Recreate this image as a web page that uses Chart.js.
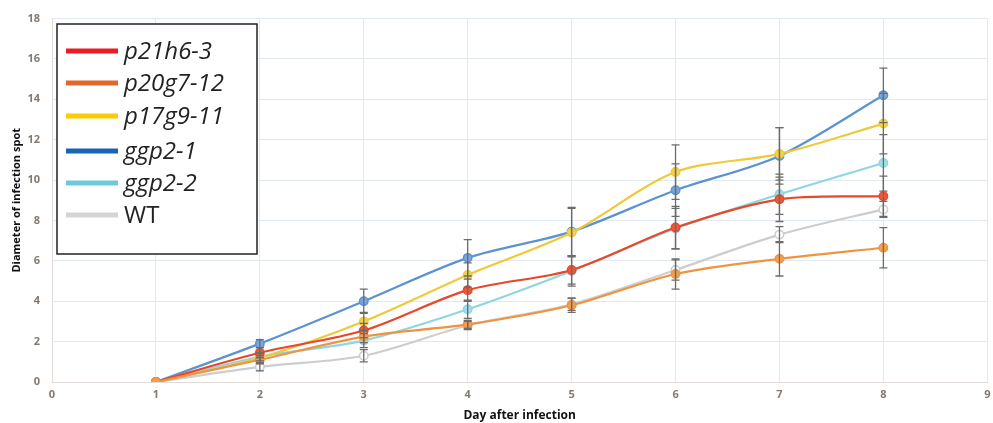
<!DOCTYPE html>
<html>
<head>
<meta charset="utf-8">
<script src="https://cdn.jsdelivr.net/npm/chart.js@4/dist/chart.umd.min.js"></script>
<style>
  html, body { margin: 0; padding: 0; background: #fff; }
  #wrap { width: 993px; height: 423px; }
</style>
</head>
<body>
<div id="wrap"><canvas id="chart" width="993" height="423"></canvas></div>
<script>
// data
const days = [1, 2, 3, 4, 5, 6, 7, 8];
const labels = ['p21h6-3', 'p20g7-12', 'p17g9-11', 'ggp2-1', 'ggp2-2', 'WT'];

const p21h6_3 = [0, 1.45, 2.55, 4.55, 5.55, 7.65, 9.05, 9.2];
const p20g7_12 = [0, 1.1, 2.25, 2.85, 3.8, 5.35, 6.1, 6.65];
const p17g9_11 = [0, 1.2, 3.0, 5.3, 7.4, 10.4, 11.3, 12.8];
const ggp2_1 = [0, 1.9, 4.0, 6.15, 7.45, 9.5, 11.2, 14.2];
const ggp2_2 = [0, 1.25, 2.05, 3.6, 5.5, 7.6, 9.3, 10.85];
const wt = [0, 0.75, 1.3, 2.8, 3.85, 5.55, 7.3, 8.55];

// standard error bars
const err_p21h6_3 = [0, 0.25, 0.35, 0.55, 0.7, 1.05, 1.1, 1.0];
const err_p20g7_12 = [0, 0.2, 0.3, 0.2, 0.35, 0.75, 0.85, 1.0];
const err_p17g9_11 = [0, 0.25, 0.45, 0.6, 1.2, 1.35, 1.3, 1.5];
const err_ggp2_1 = [0, 0.2, 0.6, 0.9, 1.2, 1.3, 1.4, 1.35];
const err_ggp2_2 = [0, 0.2, 0.35, 0.45, 0.75, 1.0, 1.0, 1.4];
const err_wt = [0, 0.2, 0.3, 0.2, 0.3, 0.5, 0.4, 0.4];

const series = [p21h6_3, p20g7_12, p17g9_11, ggp2_1, ggp2_2, wt];
const errors = [err_p21h6_3, err_p20g7_12, err_p17g9_11, err_ggp2_1, err_ggp2_2, err_wt];
const lineColors = ['#e8472a', '#ee9440', '#f0c93a', '#5b93d2', '#8fd6e3', '#cdcdcd'];
const fillColors = ['#ec5a3a', '#f2a050', '#f5d44a', '#7aa8dc', '#a2dde8', '#ffffff'];
const legendColors = ['#ec1c24', '#e2682a', '#ffcb05', '#1565b4', '#6ccadb', '#d5d5d8'];
const drawOrder = [2, 1, 3, 4, 5, 6];

// error bars drawn with the chart's scales
const errorBars = {
  id: 'errorBars',
  afterDatasetsDraw(chart) {
    const ctx = chart.ctx;
    const x = chart.scales.x, y = chart.scales.y;
    ctx.save();
    ctx.strokeStyle = '#6b6b6b';
    ctx.lineWidth = 1.3;
    series.forEach((s, i) => {
      s.forEach((v, j) => {
        const e = errors[i][j];
        if (!e) return;
        const px = x.getPixelForValue(days[j]);
        const top = y.getPixelForValue(v + e);
        const bot = y.getPixelForValue(v - e);
        ctx.beginPath();
        ctx.moveTo(px, top); ctx.lineTo(px, bot);
        ctx.moveTo(px - 4, top); ctx.lineTo(px + 4, top);
        ctx.moveTo(px - 4, bot); ctx.lineTo(px + 4, bot);
        ctx.stroke();
      });
    });
    ctx.restore();
  }
};

// boxed legend inside the plot
const boxLegend = {
  id: 'boxLegend',
  afterDraw(chart) {
    const ctx = chart.ctx;
    ctx.save();
    ctx.fillStyle = '#ffffff';
    ctx.fillRect(57, 24, 200, 230);
    ctx.strokeStyle = '#222';
    ctx.lineWidth = 1.5;
    ctx.strokeRect(57, 24, 200, 230);
    const rows = [51, 83, 116, 151, 183, 215];
    labels.forEach((lab, i) => {
      ctx.strokeStyle = legendColors[i];
      ctx.lineWidth = 5;
      ctx.beginPath();
      ctx.moveTo(66, rows[i]);
      ctx.lineTo(118, rows[i]);
      ctx.stroke();
      ctx.fillStyle = '#222';
      ctx.font = (lab === 'WT' ? '' : 'italic ') + '24px "Open Sans", sans-serif';
      ctx.textBaseline = 'middle';
      ctx.fillText(lab, 124, rows[i] + 1);
    });
    ctx.restore();
  }
};

const ctx = document.getElementById('chart').getContext('2d');
new Chart(ctx, {
  type: 'line',
  data: {
    datasets: series.map((s, i) => ({
      label: labels[i],
      data: s.map((v, j) => ({ x: days[j], y: v })),
      borderColor: lineColors[i],
      backgroundColor: fillColors[i],
      pointBackgroundColor: fillColors[i],
      pointBorderColor: lineColors[i],
      pointBorderWidth: 1.5,
      pointRadius: 4.2,
      borderWidth: 2.2,
      tension: 0.3,
      order: drawOrder[i],
    })),
  },
  options: {
    responsive: false,
    animation: false,
    layout: { padding: { top: 15, right: 3, left: 0, bottom: 0 } },
    plugins: { legend: { display: false }, tooltip: { enabled: false } },
    scales: {
      x: {
        type: 'linear',
        min: 0,
        max: 9,
        ticks: { stepSize: 1, color: '#857a70', font: { family: 'Open Sans', size: 11, weight: 'bold' }, padding: 6 },
        grid: { color: '#e1e8ef', drawTicks: false },
        border: { color: '#e1dcd8' },
        title: { display: true, text: 'Day after infection', color: '#111', font: { family: 'Open Sans', size: 12, weight: 'bold' }, padding: 0 },
        afterFit(scale) { scale.height = 41; scale.paddingRight = 0; scale.paddingLeft = 0; },
      },
      y: {
        min: 0,
        max: 18,
        ticks: { stepSize: 2, color: '#857a70', font: { family: 'Open Sans', size: 11, weight: 'bold' }, padding: 12 },
        grid: { color: '#e1e8ef', drawTicks: false },
        border: { color: '#e1dcd8' },
        title: { display: true, text: 'Diameter of infection spot', color: '#111', font: { family: 'Open Sans', size: 11, weight: 'bold' }, padding: { top: 10, bottom: 0 } },
        afterFit(scale) { scale.width = 52; },
      },
    },
  },
  plugins: [errorBars, boxLegend],
});
</script>
</body>
</html>
